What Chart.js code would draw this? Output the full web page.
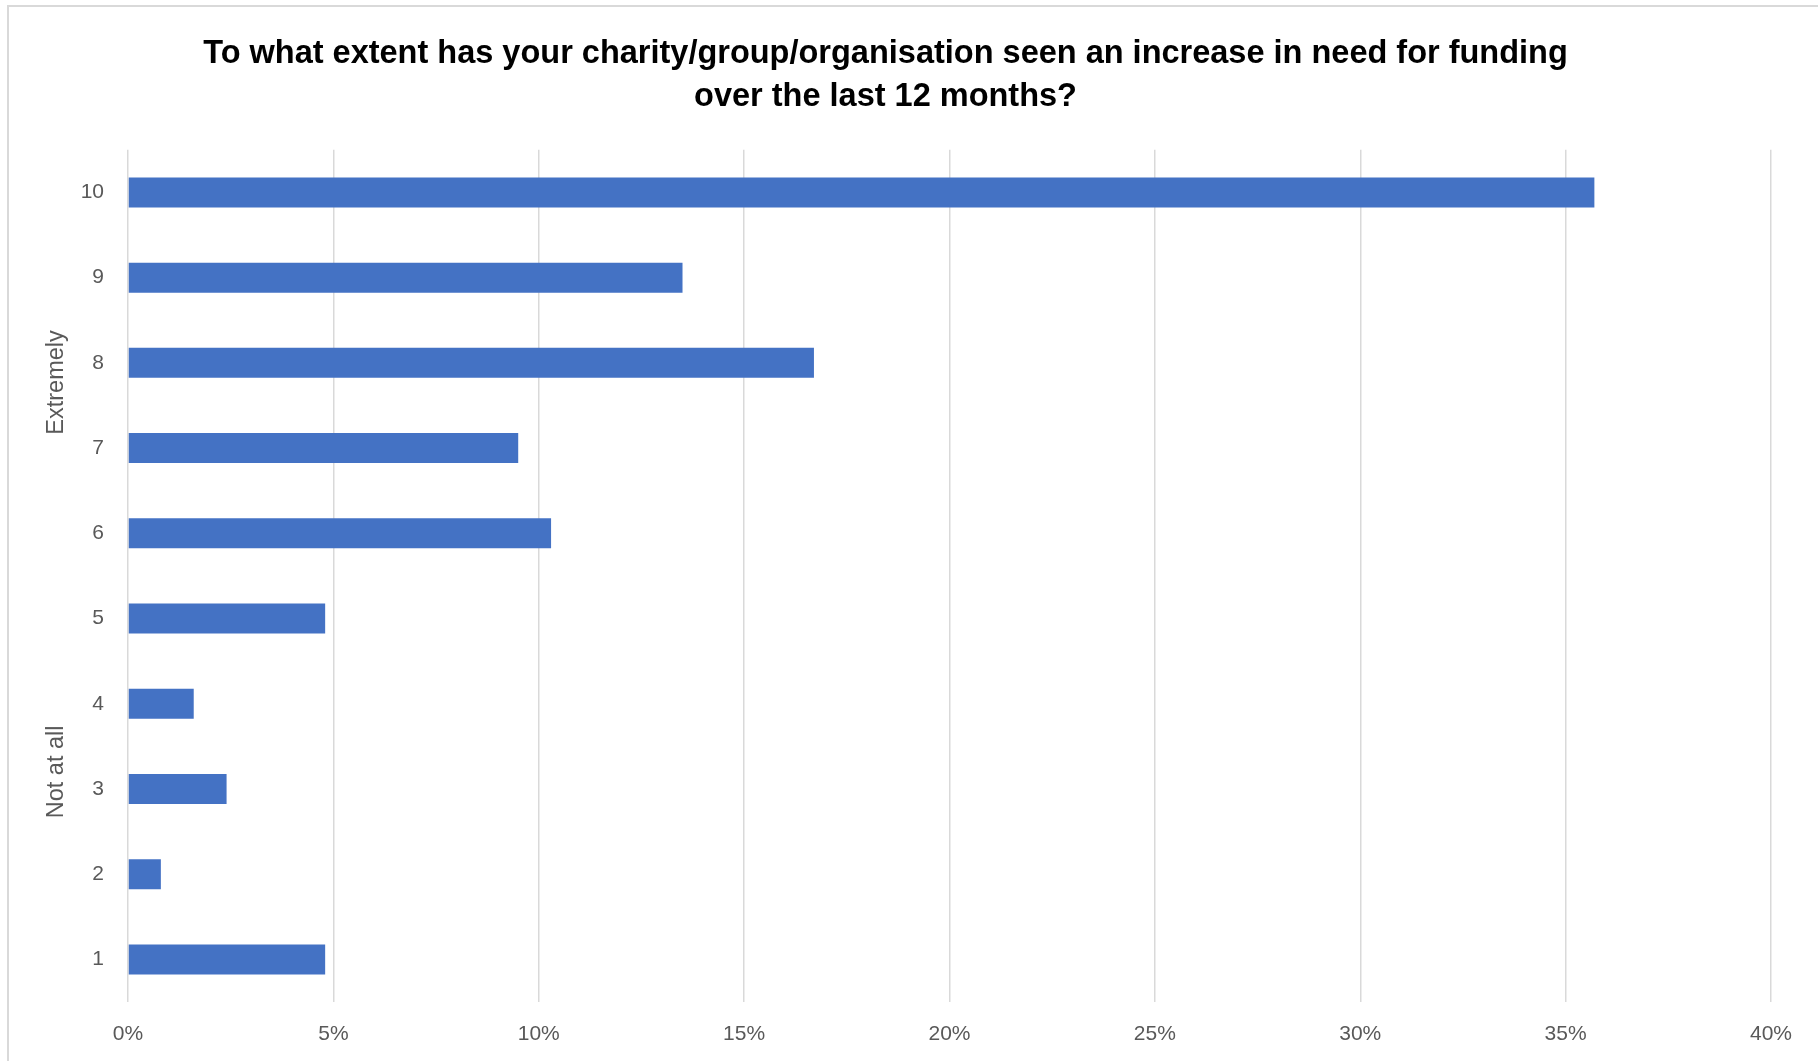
<!DOCTYPE html>
<html>
<head>
<meta charset="utf-8">
<script src="https://cdn.jsdelivr.net/npm/chart.js@4.4.0/dist/chart.umd.min.js"></script>
<style>
    html, body { margin: 0; padding: 0; background: #fff; }
    #frame {
        position: absolute; left: 7px; top: 5px;
        width: 1830px; height: 1060px;
        border: 2px solid #d9d9d9;
        box-sizing: border-box;
    }
    #wrap { position: absolute; left: 0; top: 0; width: 1818px; height: 1061px; }
</style>
</head>
<body>
<div id="frame"></div>
<div id="wrap"><canvas id="needChart" width="1818" height="1061"></canvas></div>
<script>
// rating scale 1 (not at all) .. 10 (extremely)
const ratings = ['1', '2', '3', '4', '5', '6', '7', '8', '9', '10'];
// share of respondents, %
const shares = [4.8, 0.8, 2.4, 1.6, 4.8, 10.3, 9.5, 16.7, 13.5, 35.7];
const xTicks = [0, 5, 10, 15, 20, 25, 30, 35, 40];
const sideLabels = ['Extremely', 'Not at all'];
const sideLabelAt = [6.77, 2.2];

const FONT = "'Liberation Sans', Arial, sans-serif";

// rotated "Extremely" / "Not at all" notes beside the scale
const sideNotes = {
    id: 'sideNotes',
    afterDraw(chart){
        const c = chart.ctx;
        const y = chart.scales.y;
        c.save();
        c.font = '23.5px ' + FONT;
        c.fillStyle = '#595959';
        c.textAlign = 'center';
        c.textBaseline = 'middle';
        sideLabels.forEach((txt, i) => {
            c.save();
            c.translate(57, y.getPixelForValue(sideLabelAt[i]));
            c.rotate(-Math.PI / 2);
            c.fillText(txt, 0, 0);
            c.restore();
        });
        c.restore();
    }
};

const ctx = document.getElementById('needChart');

new Chart(ctx, {
    type: 'bar',
    data: {
        labels: ratings,
        datasets: [{
            data: shares,
            backgroundColor: '#4472c4',
            barPercentage: 0.352,
            categoryPercentage: 1
        }]
    },
    options: {
        indexAxis: 'y',
        responsive: false,
        animation: false,
        layout: { padding: { left: 0, right: 47, top: 0, bottom: 0 } },
        plugins: {
            legend: { display: false },
            tooltip: { enabled: false },
            title: {
                display: true,
                text: ['To what extent has your charity/group/organisation seen an increase in need for funding',
                       'over the last 12 months?'],
                color: '#000',
                font: { family: FONT, size: 32.5, weight: 'bold', lineHeight: 1.32 },
                padding: { top: 33, bottom: 31 }
            }
        },
        scales: {
            x: {
                min: 0,
                max: 40,
                afterBuildTicks(axis){
                    axis.ticks = xTicks.map(v => ({ value: v }));
                },
                afterFit(axis){ axis.height = 59; },
                grid: { color: '#d9d9d9', lineWidth: 1.5, drawTicks: false },
                border: { display: false },
                ticks: {
                    padding: 20,
                    color: '#595959',
                    font: { family: FONT, size: 21 },
                    callback: v => v + '%'
                }
            },
            y: {
                reverse: true,
                afterFit(axis){ axis.width = 128; },
                grid: { display: false, drawTicks: false },
                border: { display: false },
                ticks: {
                    padding: 24,
                    color: '#595959',
                    font: { family: FONT, size: 21 }
                }
            }
        }
    },
    plugins: [sideNotes]
});
</script>
</body>
</html>
